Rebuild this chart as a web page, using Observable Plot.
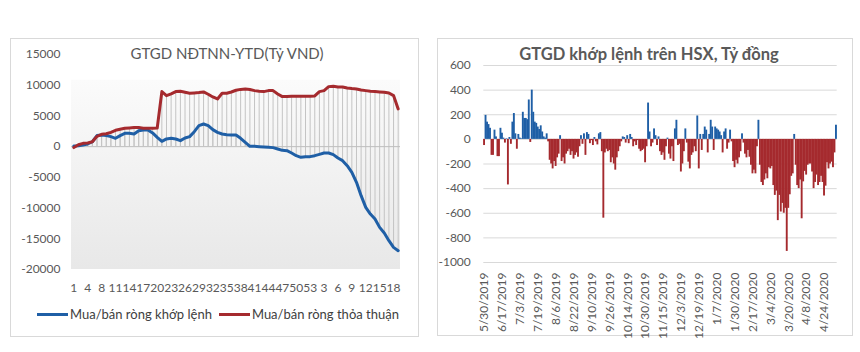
<!DOCTYPE html>
<html><head><meta charset="utf-8">
<script src="https://cdn.jsdelivr.net/npm/d3@7"></script>
<script src="https://cdn.jsdelivr.net/npm/@observablehq/plot@0.6"></script>
<style>
body{margin:0;background:#fff;width:860px;height:352px;overflow:hidden;font-family:Lato,"Open Sans",sans-serif;position:relative;}
.panel{position:absolute;border:1px solid #d9d9d9;box-sizing:border-box;}
.title{position:absolute;color:#595959;white-space:nowrap;text-align:center;}
.chart{position:absolute;}
.chart svg{overflow:visible;}
.legend{position:absolute;left:37px;top:306px;font-size:13px;color:#404040;display:flex;align-items:center;white-space:nowrap;}
.legend .sw{display:inline-block;width:31px;height:3px;margin-right:2px;}
</style></head><body>
<div class="panel" style="left:10px;top:38px;width:409px;height:299px"></div>
<div class="panel" style="left:437px;top:38px;width:416px;height:298px"></div>
<div class="title" style="left:0;width:454px;top:44px;font-size:15px;">GTGD NĐTNN-YTD(Tỷ VND)</div>
<div class="title" style="left:430px;width:438px;top:44px;font-size:16.5px;font-weight:bold;">GTGD khớp lệnh trên HSX, Tỷ đồng</div>
<div id="left" class="chart" style="left:0;top:0"></div>
<div id="right" class="chart" style="left:430px;top:0"></div>
<div class="legend"><span class="sw" style="background:#1f5fa6"></span>Mua/bán ròng khớp lệnh<span class="sw" style="background:#a52a2e;margin-left:7px"></span>Mua/bán ròng thỏa thuận</div>
<script>
// ---- Left chart: cumulative net foreign trading (YTD) by week ----
const weeks = [1,2,3,4,6,7,8,9,10,11,12,13,14,15,16,17,18,19,20,21,22,23,24,25,26,27,28,29,30,31,32,33,34,35,36,37,38,39,40,41,42,43,44,45,46,47,48,49,50,51,52,53,1,2,3,4,5,6,7,8,9,10,11,12,13,14,15,16,17,18,19];
const khopLenh = [100,160,270,430,800,1800,1900,1800,1630,1360,1800,2170,2170,2060,2600,2720,2720,2230,1520,870,1250,1360,1250,980,1410,1630,2440,3420,3690,3420,2770,2330,2060,1950,1900,1900,1360,700,50,50,0,-50,-110,-160,-380,-600,-650,-1030,-1470,-1740,-1630,-1630,-1470,-1250,-1030,-1030,-1300,-1850,-2280,-3100,-4180,-5810,-7980,-9880,-10970,-11780,-13140,-14060,-15310,-16400,-16940];
const thoaThuan = [-150,300,540,600,800,1680,2000,2100,2330,2660,2820,2990,3040,3100,3100,2990,2990,2990,3040,8960,8300,8580,8960,9010,8850,8690,8740,8800,8900,8530,8090,7760,8690,8690,8900,9180,9320,9390,9290,9120,9010,8960,9120,9120,8580,8150,8150,8200,8200,8200,8200,8200,8250,8960,9120,9770,9830,9720,9720,9560,9450,9390,9230,9120,9010,8960,8900,8850,8740,8310,6140];
const leftYTicks = [-20000,-15000,-10000,-5000,0,5000,10000,15000];

// ---- Right chart: daily matched net value on HSX ----
const hsxTickLabels = ["5/30/2019","6/17/2019","7/3/2019","7/19/2019","8/6/2019","8/22/2019","9/10/2019","9/26/2019","10/14/2019","10/30/2019","11/15/2019","12/3/2019","12/19/2019","1/7/2020","1/30/2020","2/17/2020","3/4/2020","3/20/2020","4/8/2020","4/24/2020"];
const hsxValues = [-50,195,140,120,90,-130,-130,75,20,-140,-140,90,50,10,-30,5,-370,15,-40,140,210,45,-80,40,10,5,220,170,170,160,320,-25,400,220,140,130,100,80,110,60,20,10,45,-20,-170,-200,-240,-180,-220,-150,-120,30,-180,-150,-200,-120,-100,-80,-130,-100,-160,-130,-110,-145,-60,30,-40,45,-130,55,40,-35,-10,-50,15,-20,-45,45,55,-100,-640,-110,-80,-100,-90,-190,-150,-200,-250,-150,-100,-60,-20,20,15,-30,30,-35,40,15,-60,-20,-50,-10,-80,-100,-90,-80,-190,-60,295,60,-60,-30,85,30,-50,20,-100,-130,-110,-170,-60,10,-120,-160,-60,-180,85,155,-50,-40,-265,-200,-100,85,-30,-185,-240,-130,-110,-60,-100,190,-240,40,-90,40,100,75,-110,40,155,100,-90,100,85,75,60,30,-110,60,85,-80,-30,75,-20,-180,-230,-170,-200,-150,-100,45,-30,-120,-150,-90,-145,-210,-280,-250,-280,-60,155,-210,-350,-375,-330,-280,-320,-230,-240,-220,-375,-455,-420,-660,-455,-590,-520,-600,-560,-910,-560,-450,-300,-280,40,-210,-375,-400,-330,-645,-345,-260,-290,-210,-200,-200,-265,-400,-350,-290,-375,-350,-300,-350,-460,-380,-190,-240,-200,-185,-230,-110,115];
const hsxYTicks = [-1000,-800,-600,-400,-200,0,200,400,600];

const BLUE = "#1f5fa6", RED = "#a52a2e";

const rows = weeks.map((w, i) => ({i, week: w, blue: khopLenh[i], red: thoaThuan[i]}));
const n = rows.length;

const defs = () => {
  const d = d3.create("svg:defs");
  const g = d.append("linearGradient").attr("id", "bgGrad").attr("x1", 0).attr("y1", 0).attr("x2", 0).attr("y2", 1);
  g.append("stop").attr("offset", "0%").attr("stop-color", "#fbfbfb");
  g.append("stop").attr("offset", "100%").attr("stop-color", "#e8e8e8");
  return d.node();
};

const left = Plot.plot({
  width: 420, height: 300,
  marginLeft: 71, marginRight: 20, marginTop: 54, marginBottom: 31,
  x: {domain: [-0.5, n - 0.5], axis: null},
  y: {domain: [-20000, 15000], axis: null},
  style: {fontFamily: "Lato, 'Open Sans', sans-serif", fontSize: "12px", color: "#595959", background: "transparent"},
  marks: [
    defs,
    Plot.rect([0], {x1: -0.5, x2: n - 0.5, y1: -20000, y2: 10800, fill: "url(#bgGrad)"}),
    Plot.ruleX(rows, {x: "i", y1: 0, y2: "red", stroke: "#c4c4c4", strokeWidth: 1}),
    Plot.ruleX(rows, {x: "i", y1: 0, y2: "blue", stroke: "#c4c4c4", strokeWidth: 1}),
    Plot.ruleY([0], {stroke: "#bdbdbd", strokeWidth: 1}),
    Plot.line(rows, {x: "i", y: "blue", stroke: BLUE, strokeWidth: 3, strokeLinejoin: "round"}),
    Plot.line(rows, {x: "i", y: "red", stroke: RED, strokeWidth: 3, strokeLinejoin: "round"}),
    Plot.axisY(leftYTicks, {tickSize: 0, tickPadding: 11, tickFormat: d => String(d), fill: "#595959", label: null}),
    Plot.axisX(d3.range(0, n, 3), {tickSize: 0, tickPadding: 14, tickFormat: i => String(weeks[i]), fill: "#595959", label: null})
  ]
});
document.getElementById("left").appendChild(left);

const bars = hsxValues.map((v, i) => ({i, v}));
const right = Plot.plot({
  width: 430, height: 352,
  marginLeft: 53.3, marginRight: 23.3, marginTop: 65, marginBottom: 90,
  x: {domain: d3.range(hsxValues.length), type: "band", padding: 0, axis: null},
  y: {domain: [-1000, 600], axis: null},
  style: {fontFamily: "Lato, 'Open Sans', sans-serif", fontSize: "12px", color: "#595959", background: "transparent"},
  marks: [
    Plot.ruleY(hsxYTicks, {stroke: "#d9d9d9", strokeWidth: 1}),
    Plot.barY(bars.filter(d => d.v >= 0), {x: "i", y: "v", fill: BLUE, insetLeft: -0.2, insetRight: -0.2}),
    Plot.barY(bars.filter(d => d.v < 0), {x: "i", y: "v", fill: RED, insetLeft: -0.2, insetRight: -0.2}),
    Plot.axisY(hsxYTicks, {tickSize: 0, tickPadding: 13, tickFormat: d => String(d), fill: "#595959", label: null}),
    Plot.axisX(d3.range(0, hsxValues.length, 12), {tickSize: 0, tickPadding: 10, tickRotate: -90, tickFormat: i => hsxTickLabels[i / 12], fill: "#595959", label: null})
  ]
});
document.getElementById("right").appendChild(right);
</script>
</body></html>
